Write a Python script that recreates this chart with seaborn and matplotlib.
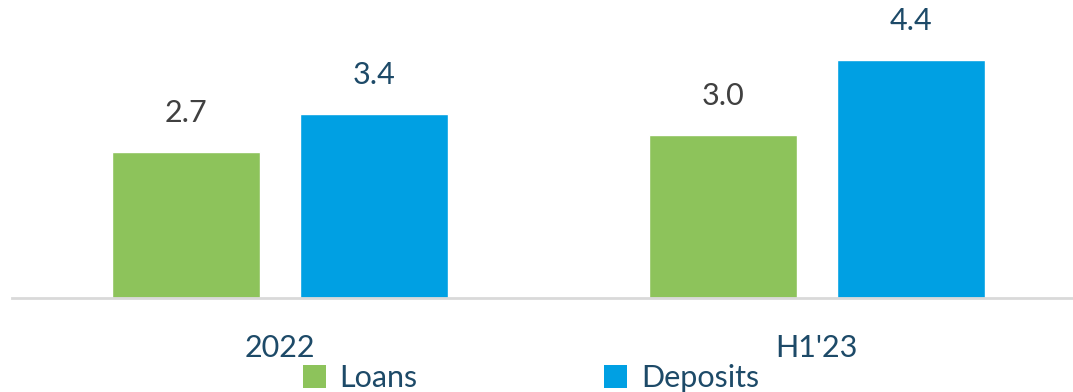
import matplotlib
matplotlib.use("Agg")
import matplotlib.pyplot as plt
import seaborn as sns
import pandas as pd
from matplotlib.patches import Patch

periods = ["2022", "H1'23"]
series = ["Loans", "Deposits"]
loans = [2.7, 3.0]
deposits = [3.4, 4.4]

colors = {"Loans": "#8DC35B", "Deposits": "#00A0E3"}
label_colors = {"Loans": "#404040", "Deposits": "#1D4A68"}
text_blue = "#1D4A68"

df = pd.DataFrame({
    "period": periods * 2,
    "series": ["Loans"] * len(periods) + ["Deposits"] * len(periods),
    "value": loans + deposits,
})

sns.set_theme(style="white")
plt.rcParams["font.family"] = ["Lato", "DejaVu Sans"]

W, H = 1073, 392
fig = plt.figure(figsize=(W / 100, H / 100), dpi=100)
ax = fig.add_axes([12 / W, 94 / H, (W - 12) / W, 298 / H])

sns.barplot(data=df, x="period", y="value", hue="series", order=periods,
            hue_order=series, palette=colors, width=0.70, gap=0.21,
            saturation=1, legend=False, ax=ax)

for cont, name in zip(ax.containers, series):
    ax.bar_label(cont, fmt="%.1f", padding=18, fontsize=22,
                 color=label_colors[name])

ax.set_xlim(-0.499, 1.477)
ax.set_ylim(0, 5.5)
ax.set_xlabel("")
ax.set_ylabel("")
ax.set_yticks([])
ax.tick_params(axis="x", length=0, pad=26, labelsize=22, labelcolor=text_blue)
for side in ["top", "right", "left"]:
    ax.spines[side].set_visible(False)
ax.spines["bottom"].set_color("#D9D9D9")
ax.spines["bottom"].set_linewidth(2)

handles = [Patch(facecolor=colors[s], edgecolor="none") for s in series]
leg = fig.legend(handles, series, loc="center", bbox_to_anchor=(531 / W, 1 - 378 / H),
                 ncol=2, frameon=False, fontsize=22, handlelength=0.75, handleheight=0.75,
                 handletextpad=0.45, columnspacing=6.1, borderpad=0)
for t in leg.get_texts():
    t.set_color(text_blue)

fig.savefig("out.png", dpi=100)
